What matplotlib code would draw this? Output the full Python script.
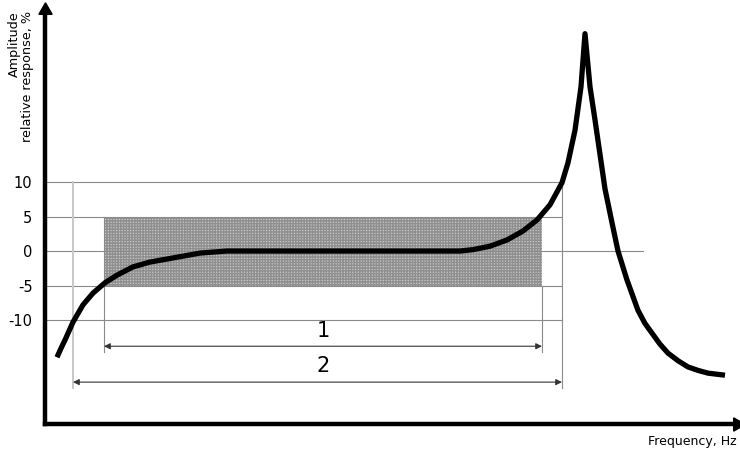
import matplotlib
matplotlib.use("Agg")
import matplotlib.pyplot as plt
from matplotlib.patches import Rectangle

# ============================================================
# DATOS (frecuencia en unidades arbitrarias)
# ============================================================

freq = [12, 16, 20, 28, 38, 48, 60, 72, 88, 105, 132, 155, 182,
        255, 355, 415, 428, 445, 462, 478, 492, 505, 517, 523, 530, 536,
        540,
        545, 550, 555, 560, 567, 573, 582, 593, 600, 607, 615, 623, 633, 643, 653, 663, 680]
amplitude = [-15.4, -14.1, -12.9, -10.3, -7.8, -6.1, -4.6, -3.5, -2.3, -1.6, -0.9, -0.3, 0.0,
             0.0, 0.0, 0.0, 0.2, 0.7, 1.6, 2.9, 4.5, 6.7, 9.9, 12.8, 17.5, 23.8,
             31.5,
             23.8, 19.0, 14.0, 9.0, 4.1, 0.0, -4.2, -8.6, -10.5, -11.9, -13.5, -14.8, -15.9, -16.8, -17.3, -17.7, -18.0]

yticks = [10, 5, 0, -5, -10]
tolerance = 5            # banda sombreada +-5 %
range1 = (59, 497)       # rango 1
range2 = (28, 517)       # rango 2
grid_end = 517
zero_end = 598

# ============================================================
# GRÁFICO
# ============================================================

fig = plt.figure(figsize=(7.4, 4.49), dpi=100)
ax = fig.add_axes([45 / 740, 25 / 449, 692 / 740, 414 / 449])
ax.set_xlim(0, 692)
ax.set_ylim(-25.07, 34.93)

# ejes con flecha
for side in ["top", "right"]:
    ax.spines[side].set_visible(False)
for side in ["left", "bottom"]:
    ax.spines[side].set_linewidth(3.2)
    ax.spines[side].set_capstyle("projecting")
ax.plot(0, 1, marker=(3, 0, 0), markersize=11, color="black",
        transform=ax.transAxes, clip_on=False)
ax.plot(1, 0, marker=(3, 0, -90), markersize=11, color="black",
        transform=ax.transAxes, clip_on=False)

# banda de tolerancia
ax.add_patch(Rectangle((range1[0], -tolerance), range1[1] - range1[0], 2 * tolerance,
                       facecolor="#c6c6c6", edgecolor="#8f8f8f", hatch="++++++",
                       linewidth=0, zorder=1))

# líneas de referencia horizontales
for v in yticks:
    end = zero_end if v == 0 else grid_end
    ax.plot([0, end], [v, v], color="#8a8a8a", linewidth=0.8, zorder=2)

# líneas verticales de los rangos
ax.plot([range2[0], range2[0]], [10, -19.9], color="#c8c8c8", linewidth=1.4, zorder=2)
ax.plot([range2[1], range2[1]], [10, -19.9], color="#8a8a8a", linewidth=0.8, zorder=2)
ax.plot([range1[0], range1[0]], [5, -14.6], color="#8a8a8a", linewidth=0.8, zorder=2)
ax.plot([range1[1], range1[1]], [-5, -14.6], color="#8a8a8a", linewidth=0.8, zorder=2)

# flechas de cota
for (a, b), yv, lab, ly in [(range1, -13.8, "1", -11.6), (range2, -19.0, "2", -16.7)]:
    ax.annotate("", xy=(a, yv), xytext=(b, yv),
                arrowprops=dict(arrowstyle="<|-|>", color="#333333", lw=0.8,
                                mutation_scale=9, shrinkA=0, shrinkB=0))
    ax.text((range1[0] + range1[1]) / 2, ly, lab, ha="center", va="center", fontsize=15)

# respuesta en frecuencia
ax.plot(freq, amplitude, color="black", linewidth=3.8, solid_joinstyle="round",
        solid_capstyle="butt", zorder=5)

ax.set_xticks([])
ax.set_yticks(yticks)
ax.set_yticklabels([str(t) for t in yticks], fontsize=10.5)
ax.tick_params(axis="y", length=0, pad=9)

fig.text(21 / 740, 1 - 11 / 449, "Amplitude\nrelative response, %", rotation=90,
         ha="center", va="top", multialignment="right", fontsize=9.2, linespacing=1.1)
fig.text(737 / 740, 1 - 441 / 449, "Frequency, Hz", ha="right", va="center", fontsize=9)

plt.savefig("out.png", dpi=100)
